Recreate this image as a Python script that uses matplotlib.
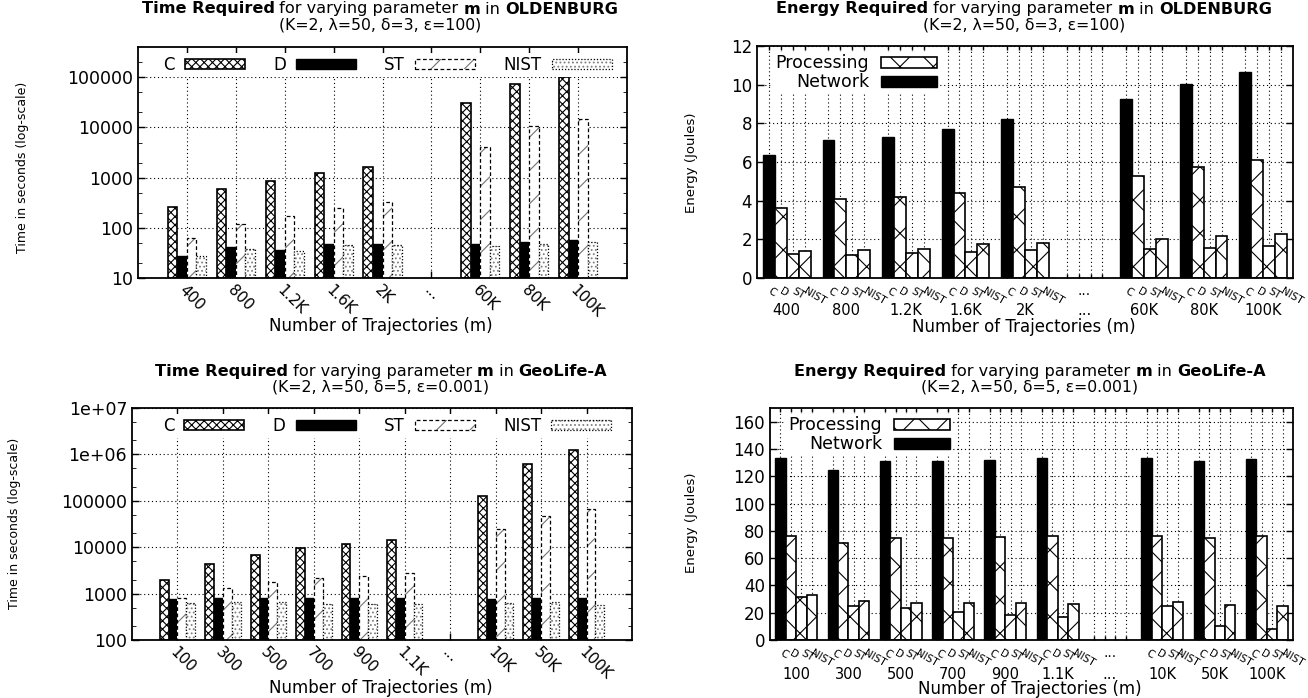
import numpy as np
import matplotlib
matplotlib.use("Agg")
import matplotlib.pyplot as plt
from matplotlib.patches import Patch
from matplotlib.ticker import FixedLocator, LogLocator, NullFormatter

W, H = 1308, 698
plt.rcParams["font.family"] = ["DejaVu Sans"]
plt.rcParams["hatch.linewidth"] = 0.8

# ---- data ("..." marks the skipped group) ----
old_groups = ["400", "800", "1.2K", "1.6K", "2K", "...", "60K", "80K", "100K"]
old_time_c = [265, 582, 840, 1228, 1591, 0, 30970, 73800, 100000]
old_time_d = [27.7, 41.8, 36.5, 48, 48, 0, 48, 52.6, 57.6]
old_time_st = [63, 118, 172, 244, 327, 0, 4027, 10500, 14690]
old_time_nist = [27.7, 37.6, 34.8, 45.8, 45.8, 0, 42.5, 48, 52.6]

old_energy_c = [6.34, 7.13, 7.31, 7.70, 8.20, 0, 9.25, 10.02, 10.64]
old_energy_d = [3.64, 4.09, 4.18, 4.40, 4.69, 0, 5.29, 5.72, 6.09]
old_energy_st = [1.24, 1.20, 1.29, 1.34, 1.43, 0, 1.50, 1.56, 1.68]
old_energy_nist = [1.41, 1.46, 1.51, 1.75, 1.80, 0, 2.01, 2.18, 2.27]

geo_groups = ["100", "300", "500", "700", "900", "1.1K", "...", "10K", "50K", "100K"]
geo_time_c = [1923, 4250, 6750, 9710, 11840, 14190, 0, 125600, 613000, 1230000]
geo_time_d = [750, 788, 788, 788, 788, 788, 0, 750, 788, 788]
geo_time_st = [815, 1294, 1800, 2195, 2423, 2722, 0, 24500, 45900, 65900]
geo_time_nist = [615, 646, 646, 586, 586, 586, 0, 615, 646, 567]

geo_energy_c = [133.1, 124.3, 131.2, 131.2, 131.9, 133.1, 0, 133.1, 131.2, 132.4]
geo_energy_d = [76.0, 70.8, 75.0, 74.7, 75.2, 76.2, 0, 76.0, 75.0, 76.0]
geo_energy_st = [31.3, 24.9, 23.2, 20.3, 18.1, 16.6, 0, 24.9, 10.5, 7.8]
geo_energy_nist = [33.2, 28.6, 27.4, 26.9, 26.9, 26.1, 0, 27.6, 25.6, 25.2]

methods = ["C", "D", "ST", "NIST"]

fig = plt.figure(figsize=(W / 100, H / 100), dpi=100)


def px_axes(l, t, r, b):
    return fig.add_axes([l / W, 1 - b / H, (r - l) / W, (b - t) / H])


def rich_text(cx, cy, pieces, size):
    r = fig.canvas.get_renderer()
    items = []
    for s, wt in pieces:
        t = fig.text(0, 1 - cy / H, s, fontsize=size, fontweight=wt, va="center", ha="left")
        items.append((t, t.get_window_extent(r).width))
    x = cx - sum(w for _, w in items) / 2
    for t, w in items:
        t.set_x(x / W)
        x += w


def title_pair(cx, y1, dataset, kind, params):
    rich_text(cx, y1, [(kind + " Required", "bold"), (" for varying parameter ", "normal"),
                       ("m", "bold"), (" in ", "normal"), (dataset, "bold")], 11.6)
    rich_text(cx, y1 + 16, [(params, "normal")], 11.3)


def style_axes(ax, labelsize):
    ax.tick_params(direction="in", top=True, right=True, length=5, width=1,
                   labelsize=labelsize)
    ax.tick_params(which="minor", direction="in", top=False, right=True, length=3)
    for s in ax.spines.values():
        s.set_linewidth(1.3)
    ax.set_axisbelow(True)


def time_chart(ax, groups, c, d, st, nist, ylo, yhi, ticks, ticklabels):
    x = np.arange(len(groups))
    ok = np.array([g != "..." for g in groups])
    w = 0.195
    ax.set_yscale("log")
    xs = x[ok]

    def h(v):
        return np.asarray(v, float)[ok] - ylo

    ax.bar(xs - 1.5 * w, h(c), w, bottom=ylo, facecolor="white", edgecolor="black",
           hatch="xxxx", linewidth=1.2)
    ax.bar(xs - 0.5 * w, h(d), w, bottom=ylo, facecolor="black", edgecolor="black", linewidth=1)
    ax.bar(xs + 0.5 * w, h(st), w, bottom=ylo, facecolor="white", edgecolor="0.45",
           hatch="/", linewidth=0)
    ax.bar(xs + 0.5 * w, h(st), w, bottom=ylo, fill=False, edgecolor="black",
           linestyle=(0, (3, 2)), linewidth=0.9)
    ax.bar(xs + 1.5 * w, h(nist), w, bottom=ylo, facecolor="white", edgecolor="0.5",
           hatch="....", linewidth=0)
    ax.bar(xs + 1.5 * w, h(nist), w, bottom=ylo, fill=False, edgecolor="black",
           linestyle=(0, (1, 1.5)), linewidth=0.9)

    ax.set_xlim(-1, len(groups))
    ax.set_ylim(ylo, yhi)
    ax.yaxis.set_major_locator(FixedLocator(ticks))
    ax.set_yticklabels(ticklabels)
    ax.yaxis.set_minor_locator(LogLocator(base=10, subs=(2, 5)))
    ax.yaxis.set_minor_formatter(NullFormatter())
    ax.set_xticks(x)
    ax.set_xticklabels(groups, rotation=-45, ha="left", va="top", rotation_mode="anchor")
    ax.grid(True, which="major", linestyle=(0, (1, 2.5)), color="black", linewidth=0.8)
    style_axes(ax, 12.5)
    ax.tick_params(axis="x", labelsize=11)

    handles = [
        Patch(facecolor="white", edgecolor="black", hatch="xxxx", linewidth=1.2),
        Patch(facecolor="black", edgecolor="black"),
        (Patch(facecolor="white", edgecolor="0.45", hatch="/", linewidth=0),
         Patch(fill=False, edgecolor="black", linestyle=(0, (3, 2)), linewidth=0.9)),
        (Patch(facecolor="white", edgecolor="0.5", hatch="....", linewidth=0),
         Patch(fill=False, edgecolor="black", linestyle=(0, (1, 1.5)), linewidth=0.9)),
    ]
    leg = ax.legend(handles, methods, ncol=4, markerfirst=False, loc="upper center",
                    bbox_to_anchor=(0.51, 0.99), fontsize=12, handlelength=3.6,
                    handleheight=0.55, handletextpad=0.6, columnspacing=1.7,
                    frameon=True, framealpha=1, edgecolor="white", fancybox=False,
                    borderpad=0.2, borderaxespad=0.2)
    leg.get_frame().set_linewidth(0)


def energy_chart(ax, groups, c, d, st, nist, yhi, ystep, group_y):
    x = np.arange(len(groups))
    ok = np.array([g != "..." for g in groups])
    w = 0.2
    xs = x[ok]

    def v(a):
        return np.asarray(a, float)[ok]

    ax.bar(xs - 1.5 * w, v(c), w, facecolor="black", edgecolor="black", linewidth=1)
    for off, s in [(-0.5, d), (0.5, st), (1.5, nist)]:
        ax.bar(xs + off * w, v(s), w, facecolor="white", edgecolor="black", hatch="x",
               linewidth=1.2)

    ax.set_xlim(-0.5, len(groups) - 0.5)
    ax.set_ylim(0, yhi)
    ax.set_yticks(np.arange(0, yhi + 0.01, ystep))
    pos, lab = [], []
    for i, g in enumerate(groups):
        for k, m in enumerate(methods):
            pos.append(i + (k - 1.5) * w)
            lab.append("" if g == "..." else m)
    ax.set_xticks(pos)
    ax.set_xticklabels(lab, rotation=-30, ha="left", va="center", rotation_mode="anchor")
    trans = ax.get_xaxis_transform()
    for i, g in enumerate(groups):
        ax.text(i, group_y, g, transform=trans, ha="center", va="center", fontsize=10.5)
        if g == "...":
            ax.text(i, -0.055, "...", transform=trans, ha="center", va="center", fontsize=10)
    ax.grid(True, linestyle=(0, (1, 2.5)), color="black", linewidth=0.8)
    style_axes(ax, 12)
    ax.tick_params(axis="x", length=3, labelsize=7.5, pad=9)

    handles = [Patch(facecolor="white", edgecolor="black", hatch="x", linewidth=1.2),
               Patch(facecolor="black", edgecolor="black")]
    leg = ax.legend(handles, ["Processing", "Network"], loc="upper left",
                    bbox_to_anchor=(0.03, 0.975), markerfirst=False, fontsize=12.5,
                    handlelength=3.2, handleheight=0.6, handletextpad=0.7, labelspacing=0.05,
                    frameon=True, framealpha=1, edgecolor="white", fancybox=False,
                    borderpad=0.15, borderaxespad=0)
    leg.get_frame().set_linewidth(0)


# ---- top left: time, Oldenburg ----
ax1 = px_axes(138, 47, 627, 278)
time_chart(ax1, old_groups, old_time_c, old_time_d, old_time_st, old_time_nist,
           10, 4e5, [10, 100, 1000, 10000, 100000], ["10", "100", "1000", "10000", "100000"])
title_pair(380, 9, "OLDENBURG", "Time", "(K=2, \u03bb=50, \u03b4=3, \u03b5=100)")
fig.text(381 / W, 1 - 326 / H, "Number of Trajectories (m)", ha="center", va="center", fontsize=12)
fig.text(23 / W, 1 - 167 / H, "Time in seconds (log-scale)", rotation=90, ha="center",
         va="center", fontsize=9)

# ---- top right: energy, Oldenburg ----
ax2 = px_axes(757, 46, 1293, 278)
energy_chart(ax2, old_groups, old_energy_c, old_energy_d, old_energy_st, old_energy_nist,
             12, 2, -0.142)
title_pair(1024, 9, "OLDENBURG", "Energy", "(K=2, \u03bb=50, \u03b4=3, \u03b5=100)")
fig.text(1024 / W, 1 - 327 / H, "Number of Trajectories (m)", ha="center", va="center", fontsize=12)
fig.text(691 / W, 1 - 163 / H, "Energy (Joules)", rotation=90, ha="center", va="center",
         fontsize=9.5)

# ---- bottom left: time, GeoLife-A ----
ax3 = px_axes(132, 408, 632, 640)
time_chart(ax3, geo_groups, geo_time_c, geo_time_d, geo_time_st, geo_time_nist,
           100, 1e7, [100, 1000, 10000, 100000, 1e6, 1e7],
           ["100", "1000", "10000", "100000", "1e+06", "1e+07"])
title_pair(381, 371, "GeoLife-A", "Time", "(K=2, \u03bb=50, \u03b4=5, \u03b5=0.001)")
fig.text(381 / W, 1 - 688 / H, "Number of Trajectories (m)", ha="center", va="center", fontsize=12)
fig.text(15 / W, 1 - 523 / H, "Time in seconds (log-scale)", rotation=90, ha="center",
         va="center", fontsize=9)

# ---- bottom right: energy, GeoLife-A ----
ax4 = px_axes(770, 408, 1293, 640)
energy_chart(ax4, geo_groups, geo_energy_c, geo_energy_d, geo_energy_st, geo_energy_nist,
             170, 20, -0.15)
ax4.set_yticks(np.arange(0, 161, 20))
title_pair(1030, 371, "GeoLife-A", "Energy", "(K=2, \u03bb=50, \u03b4=5, \u03b5=0.001)")
fig.text(1030 / W, 1 - 689 / H, "Number of Trajectories (m)", ha="center", va="center", fontsize=12)
fig.text(691 / W, 1 - 523 / H, "Energy (Joules)", rotation=90, ha="center", va="center",
         fontsize=9.5)

fig.savefig("out.png", dpi=100)
